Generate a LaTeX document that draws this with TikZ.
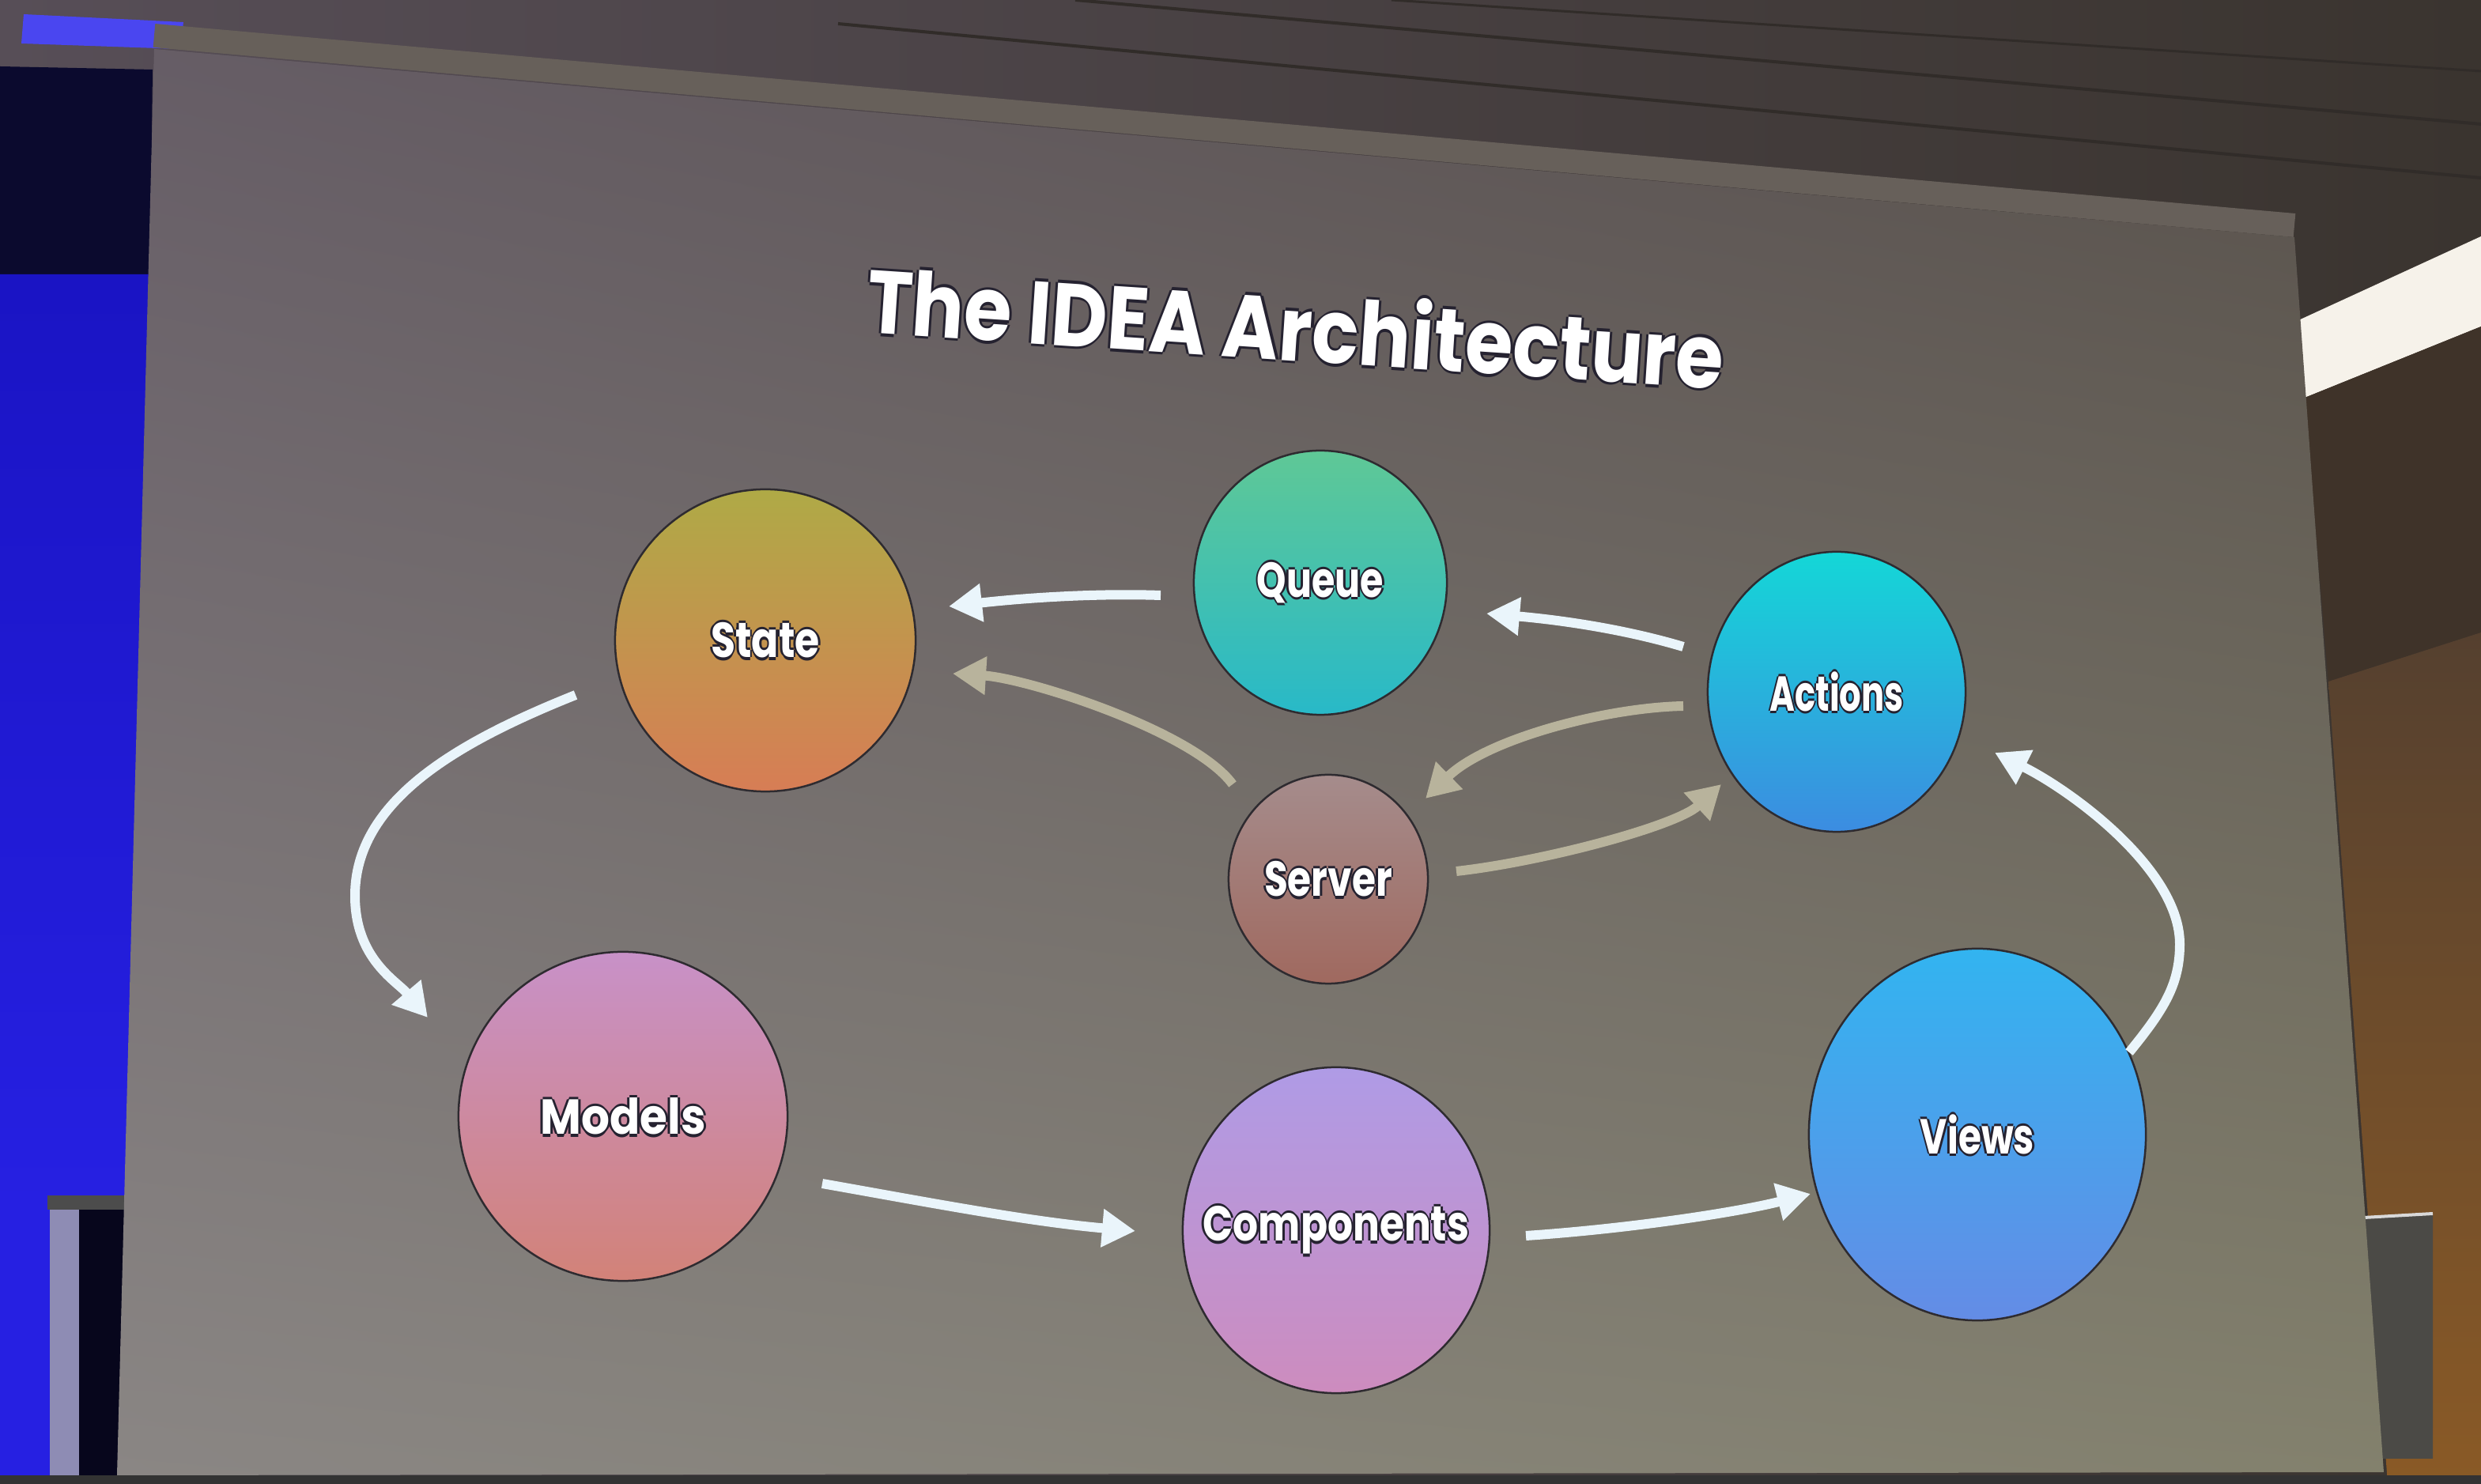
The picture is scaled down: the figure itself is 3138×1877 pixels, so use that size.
\documentclass[tikz,border=0pt]{standalone}
\usepackage{graphicx}
\usepackage{fontspec}
\newfontfamily\slidefont{Poppins}
\usetikzlibrary{arrows.meta,shapes.geometric,calc,shadings}

% room and screen
\definecolor{ceilL}{HTML}{574E57}
\definecolor{ceilR}{HTML}{3A342F}
\definecolor{ceilLine}{HTML}{312C29}
\definecolor{screenBand}{HTML}{67605A}
\definecolor{scrUL}{HTML}{665D66}
\definecolor{scrUR}{HTML}{57504B}
\definecolor{scrLL}{HTML}{8A8684}
\definecolor{scrLR}{HTML}{83816D}
\definecolor{navy}{HTML}{0B0A2E}
\definecolor{uvTop}{HTML}{1A14C4}
\definecolor{uvBot}{HTML}{2620E2}
\definecolor{stripBlue}{HTML}{4A46F0}
\definecolor{poleGray}{HTML}{8E8CB4}
\definecolor{lampWhite}{HTML}{F6F2EA}
\definecolor{beam}{HTML}{3F3329}
\definecolor{wallTop}{HTML}{55402F}
\definecolor{wallBot}{HTML}{8A5A26}
\definecolor{crate}{HTML}{4B4A46}
% slide
\definecolor{textedge}{HTML}{252230}
\definecolor{bubbleedge}{HTML}{2E2B30}
\definecolor{arrowWhite}{HTML}{EAF5FB}
\definecolor{arrowTan}{HTML}{B8B39C}
\definecolor{stateT}{HTML}{AFAA46}
\definecolor{stateB}{HTML}{D77D55}
\definecolor{queueT}{HTML}{5FC896}
\definecolor{queueB}{HTML}{28B9C8}
\definecolor{actionsT}{HTML}{14D7D7}
\definecolor{actionsB}{HTML}{3C8CE1}
\definecolor{serverT}{HTML}{A58C8C}
\definecolor{serverB}{HTML}{A0695F}
\definecolor{modelsT}{HTML}{C891C8}
\definecolor{modelsB}{HTML}{D28278}
\definecolor{compT}{HTML}{AF9BE6}
\definecolor{compB}{HTML}{CD8CBE}
\definecolor{viewsT}{HTML}{32B4F0}
\definecolor{viewsB}{HTML}{648CE6}

% white lettering with a thin dark rim
\newcommand\edgetext[1]{%
  \setbox0=\hbox{#1}%
  \rlap{\kern-1pt\textcolor{textedge}{\copy0}}%
  \rlap{\kern1pt\textcolor{textedge}{\copy0}}%
  \rlap{\raisebox{1pt}{\textcolor{textedge}{\copy0}}}%
  \rlap{\raisebox{-1pt}{\textcolor{textedge}{\copy0}}}%
  \copy0}
% bubble caption: horizontal squeeze #1, kept from widening the bubble
\newcommand\lbl[2]{\makebox[0pt]{\scalebox{#1}[0.93]{\edgetext{#2}}}}

\tikzset{
  bubble/.style={ellipse, inner sep=0pt, draw=bubbleedge, line width=0.025cm,
    text=white, font=\slidefont\bfseries\fontsize{19}{20}\selectfont},
  flow/.style={draw=arrowWhite, line width=0.12cm,
    -{Triangle[length=0.42cm,width=0.46cm]}},
  sync/.style={flow, draw=arrowTan},
  heading/.style={text=white, rotate=-3.8,
    font=\slidefont\bfseries\fontsize{32}{34}\selectfont},
}

\begin{document}
\begin{tikzpicture}[x=0.01cm, y=-0.01cm]
\useasboundingbox (0,0) rectangle (3138,1877);

% ceiling
\shade[left color=ceilL, right color=ceilR] (0,0) rectangle (3138,1877);
\draw[ceilLine, line width=0.04cm] (1060,30) -- (3138,225);
\draw[ceilLine, line width=0.04cm] (1360,0) -- (3138,157);
\draw[ceilLine, line width=0.03cm] (1760,0) -- (3138,90);

% left wall with blue light
\fill[stripBlue] (30,18) -- (232,28) -- (228,62) -- (27,55) -- cycle;
\fill[navy] (0,84) -- (193,88) -- (190,347) -- (0,347) -- cycle;
\shade[top color=uvTop, bottom color=uvBot] (0,347) -- (190,347) -- (163,1525) -- (0,1525) -- cycle;
\fill[uvBot] (0,1525) rectangle (63,1877);
\fill[poleGray] (63,1525) rectangle (100,1877);
\fill[navy!60!black] (100,1525) -- (160,1525) -- (150,1877) -- (100,1877) -- cycle;
\fill[black!70] (60,1512) rectangle (165,1530);

% right wall, ceiling lamp and box
\fill[lampWhite] (2903,407) -- (3138,299) -- (3138,413) -- (2915,503) -- cycle;
\fill[beam] (2915,503) -- (3138,413) -- (3138,800) -- (2945,862) -- cycle;
\shade[top color=wallTop, bottom color=wallBot] (2945,862) -- (3138,800) -- (3138,1877) -- (3020,1877) -- cycle;
\fill[crate] (2990,1540) -- (3077,1535) -- (3077,1845) -- (3012,1845) -- cycle;
\draw[black!15, line width=0.04cm] (2990,1540) -- (3077,1535);

% projection screen
\draw[screenBand, line width=0.3cm] (195,45) -- (2902,285);
\shade[upper left=scrUL, upper right=scrUR, lower left=scrLL, lower right=scrLR]
  (195,62) -- (2902,300) -- (3015,1862) -- (148,1866) -- cycle;
\fill[black!80] (0,1866) rectangle (3138,1877);

% title
\node[heading] (title) at (1639,412) {\scalebox{0.87}[1]{\edgetext{The IDEA Architecture}}};

% bubbles
\node[bubble, top color=stateT, bottom color=stateB, minimum width=3.80cm, minimum height=3.82cm] (state) at (968,810) {\lbl{0.756}{State}};
\node[bubble, top color=queueT, bottom color=queueB, minimum width=3.20cm, minimum height=3.34cm] (queue) at (1670,737) {\lbl{0.712}{Queue}};
\node[bubble, top color=actionsT, bottom color=actionsB, minimum width=3.26cm, minimum height=3.54cm] (actions) at (2323,875) {\lbl{0.648}{Actions}};
\node[bubble, top color=serverT, bottom color=serverB, minimum width=2.52cm, minimum height=2.64cm] (server) at (1680,1112) {\lbl{0.728}{Server}};
\node[bubble, top color=modelsT, bottom color=modelsB, minimum width=4.16cm, minimum height=4.16cm] (models) at (788,1412) {\lbl{0.845}{Models}};
\node[bubble, top color=compT, bottom color=compB, minimum width=3.88cm, minimum height=4.12cm] (components) at (1690,1556) {\lbl{0.752}{Components}};
\node[bubble, top color=viewsT, bottom color=viewsB, minimum width=4.26cm, minimum height=4.70cm] (views) at (2501,1435) {\lbl{0.704}{Views}};

% main loop
\draw[flow] ($(queue)+(-202,16)$) .. controls +(-88,-3) and +(90,-10) .. ($(state)+(232,-43)$);
\draw[flow] ($(actions)+(-194,-57)$) .. controls +(-84,-25) and +(80,7) .. ($(queue)+(210,39)$);
\draw[flow] ($(state)+(-240,69)$) .. controls +(-150,60) and +(0,-120) .. ($(models)+(-339,-279)$)
  .. controls +(0,80) and +(-39,-46) .. ($(models)+(-247,-125)$);
\draw[flow] ($(models)+(252,85)$) .. controls +(130,23) and +(-136,-12) .. ($(components)+(-254,1)$);
\draw[flow] ($(components)+(240,7)$) .. controls +(120,-8) and +(-100,25) .. ($(views)+(-211,75)$);
\draw[flow] ($(views)+(192,-104)$) .. controls +(45,-55) and +(0,50) .. ($(views)+(256,-241)$)
  .. controls +(0,-94) and +(97,48) .. ($(actions)+(200,77)$);

% server round trips
\draw[sync] ($(server)+(-121,-120)$) .. controls +(-49,-67) and +(95,6) .. ($(state)+(237,42)$);
\draw[sync] ($(actions)+(-194,18)$) .. controls +(-99,2) and +(77,-75) .. ($(server)+(123,-102)$);
\draw[sync] ($(server)+(162,-10)$) .. controls +(108,-12) and +(-57,53) .. ($(actions)+(-146,117)$);
\end{tikzpicture}
\end{document}
